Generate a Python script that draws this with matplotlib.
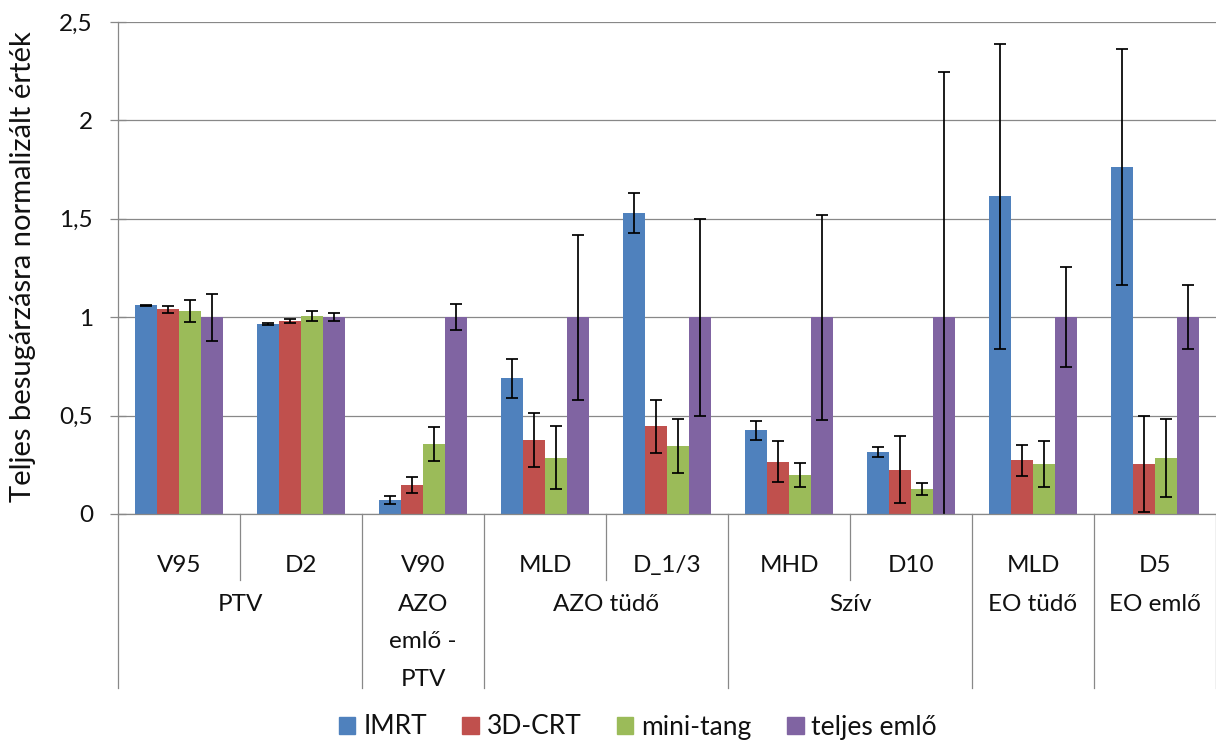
import numpy as np
import matplotlib.pyplot as plt
from matplotlib.patches import Patch

plt.rcParams['font.family'] = ['Lato', 'DejaVu Sans']
plt.rcParams['font.size'] = 17.5

# leaf categories and their parent groups (group sizes in leaves)
categories = ['V95', 'D2', 'V90', 'MLD', 'D_1/3', 'MHD', 'D10', 'MLD', 'D5']
group_names = ['PTV', 'AZO\nemlő -\nPTV', 'AZO tüdő', 'Szív', 'EO tüdő', 'EO emlő']
group_sizes = [2, 1, 2, 2, 1, 1]

series = ['IMRT', '3D-CRT', 'mini-tang', 'teljes emlő']
imrt = [1.06, 0.965, 0.07, 0.69, 1.53, 0.425, 0.315, 1.615, 1.765]
imrt_err = [0.003, 0.005, 0.019, 0.10, 0.10, 0.05, 0.023, 0.775, 0.60]
crt = [1.04, 0.98, 0.148, 0.375, 0.445, 0.265, 0.225, 0.273, 0.255]
crt_err = [0.018, 0.012, 0.039, 0.137, 0.134, 0.104, 0.17, 0.078, 0.245]
mini = [1.03, 1.005, 0.355, 0.287, 0.345, 0.197, 0.127, 0.255, 0.285]
mini_err = [0.055, 0.026, 0.085, 0.162, 0.138, 0.06, 0.029, 0.118, 0.20]
teljes = [1.0, 1.0, 1.0, 1.0, 1.0, 1.0, 1.0, 1.0, 1.0]
teljes_err = [0.12, 0.02, 0.065, 0.42, 0.50, 0.52, 1.245, 0.255, 0.162]

colors = ['#4F81BD', '#C0504D', '#9BBB59', '#8064A2']
grid_col = '#888888'
text_col = '#111111'

W, H = 1216, 749
fig = plt.figure(figsize=(W / 100, H / 100), dpi=100)
# plot area in pixels: x 118..1216, y 22..514
ax = fig.add_axes([118 / W, (H - 514) / H, 1098 / W, 492 / H])

x = np.arange(len(categories))
width = 1 / 5.5
values = [imrt, crt, mini, teljes]
errors = [imrt_err, crt_err, mini_err, teljes_err]
for i in range(4):
    ax.bar(x + (i - 1.5) * width, values[i], width, color=colors[i],
           yerr=errors[i], label=series[i], zorder=2,
           error_kw=dict(ecolor='black', elinewidth=1.25, capsize=4.3, capthick=1.25))

ax.set_xlim(-0.5, len(categories) - 0.5)
ax.set_ylim(0, 2.5)
ax.set_yticks([0, 0.5, 1, 1.5, 2, 2.5])
ax.set_yticklabels(['0', '0,5', '1', '1,5', '2', '2,5'], color=text_col)
ax.tick_params(axis='y', direction='inout', length=12, width=0.9, color=grid_col, pad=12)
ax.set_xticks([])
ax.yaxis.grid(True, color=grid_col, linewidth=0.9)
ax.set_axisbelow(True)
for s in ['top', 'right']:
    ax.spines[s].set_visible(False)
for s in ['left', 'bottom']:
    ax.spines[s].set_color(grid_col)
    ax.spines[s].set_linewidth(0.9)

fig.text(23 / W, (H - 267) / H, 'Teljes besugárzásra normalizált érték',
         rotation=90, ha='center', va='center', color=text_col, fontsize=21)

# multi-level category axis
tr = ax.get_xaxis_transform()
def yfrac(ypix):
    return (514 - ypix) / 492

for xi, name in zip(x, categories):
    ax.text(xi, yfrac(572), name, transform=tr, ha='center', va='baseline',
            color=text_col, clip_on=False)

bounds = np.concatenate([[0], np.cumsum(group_sizes)])
for g, name in enumerate(group_names):
    xc = (bounds[g] + bounds[g + 1] - 1) / 2
    for k, line in enumerate(name.split('\n')):
        ax.text(xc, yfrac(611 + k * 37.5), line, transform=tr, ha='center',
                va='baseline', color=text_col, clip_on=False)

for b in bounds:
    ax.plot([b - 0.5, b - 0.5], [0, yfrac(688)], transform=tr, color=grid_col,
            lw=0.9, clip_on=False)
for g in range(len(group_sizes)):
    for b in range(bounds[g] + 1, bounds[g + 1]):
        ax.plot([b - 0.5, b - 0.5], [0, yfrac(580)], transform=tr, color=grid_col,
                lw=0.9, clip_on=False)

handles = [Patch(color=c) for c in colors]
fig.legend(handles, series, loc='center', bbox_to_anchor=(638 / W, 1 - 727 / H),
           ncol=4, frameon=False, handlelength=0.62, handleheight=0.62,
           handletextpad=0.3, columnspacing=1.35, labelcolor=text_col, fontsize=19)

fig.savefig('out.png', dpi=100)
